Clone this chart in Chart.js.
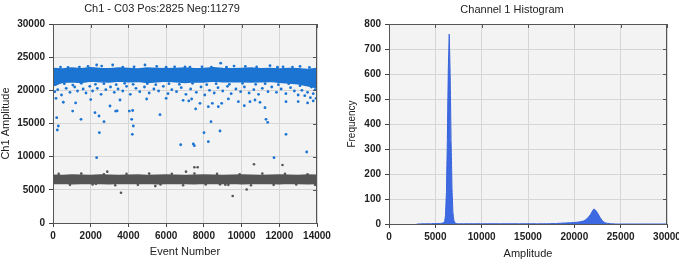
<!DOCTYPE html>
<html lang="en">
<head>
<meta charset="UTF-8">
<title>Ch1 scatter and histogram</title>
<script src="https://cdn.jsdelivr.net/npm/chart.js"></script>
<style>
  body { margin: 0; background: #fff; }
  .panel { position: absolute; top: 0; height: 263px; }
  #left { left: 0; width: 340px; }
  #right { left: 340px; width: 339px; }
</style>
</head>
<body>
<div class="panel" id="left"><canvas id="scatterChart" width="340" height="263"></canvas></div>
<div class="panel" id="right"><canvas id="histChart" width="339" height="263"></canvas></div>
<script>
// ---- data ----
// dense bands of the scatter: edges sampled every 500 events
const bandEvents = [0,500,1000,1500,2000,2500,3000,3500,4000,4500,5000,5500,6000,6500,7000,7500,8000,8500,9000,9500,10000,10500,11000,11500,12000,12500,13000,13500,14000];
const blueUpper = [23300,23200,23350,23250,23400,23300,23250,23350,23300,23200,23350,23300,23250,23300,23350,23250,23300,23400,23300,23250,23300,23350,23250,23300,23200,23300,23250,23150,23300];
const blueLower = [20700,21200,21300,21200,21400,21300,21250,21400,21300,21350,21200,21300,21400,21300,21200,21300,21250,21400,21300,21350,21300,21250,21300,21350,21200,21100,21000,20700,20400];
const grayUpper = [7200,7150,7250,7200,7150,7250,7200,7150,7200,7250,7150,7200,7250,7200,7150,7200,7250,7200,7150,7200,7250,7200,7150,7200,7250,7200,7150,7250,7200];
const grayLower = [5950,6000,5900,5950,6000,5950,5900,6000,5950,5950,6000,5900,5950,6000,5950,5900,6000,5950,5950,6000,5900,5950,6000,5950,5900,6000,5950,5900,5950];

// single events outside the dense bands [event, amplitude]
const blueEvents = [
  [400,23500],[1856,23600],[2315,23820],[2580,23650],[3164,23820],[4877,23820],[5500,23600],[6450,23550],
  [7265,23500],[7900,23550],[8891,24100],[9600,23650],[10200,23600],[11507,23710],[12200,23550],[13100,23600],
  [800,23450],[1400,23500],[3700,23480],[4300,23550],[6000,23480],[7000,23520],[8400,23500],[9200,23480],
  [10800,23520],[11900,23480],[12700,23500],[13600,23450],
  [150,20900],[600,21000],[1050,20800],[1500,21050],[2250,20900],[2700,21000],[3350,20850],[3800,21050],
  [4250,20900],[5000,21000],[5450,20850],[6150,21000],[6700,20900],[7400,21050],[8150,20850],[8650,21000],
  [9350,20900],[10050,21050],[10750,20900],[11250,21000],[11950,20850],[12500,21000],[13100,20700],[13700,20500],
  [100,19800],[250,20100],[450,19300],[700,20300],[900,19700],[1150,20500],[1300,19900],[1600,20200],
  [1750,19600],[1950,20600],[2100,19900],[2350,20300],[2550,19400],[2800,20100],[3050,20500],[3250,19700],
  [3450,20200],[3700,19900],[3900,20600],[4100,19400],[4400,20300],[4600,19800],[4850,20500],[5100,19600],
  [5350,20200],[5600,19900],[5850,20600],[6100,19500],[6300,20100],[6550,19800],[6800,20400],[7050,19400],
  [7300,20200],[7600,19700],[7850,20500],[8050,19300],[8300,20000],[8550,19600],[8750,20400],[9000,19900],
  [9250,20600],[9450,19500],[9700,20200],[9950,19800],[10150,20500],[10400,19600],[10650,20100],[10900,19400],
  [11100,20300],[11400,19800],[11600,20500],[11850,19700],[12100,20200],[12350,19500],[12600,20400],[12800,19900],
  [13000,19300],[13200,20000],[13350,19200],[13500,19700],[13650,18900],[13800,19500],[13900,20100],[13950,18800],
  [159,18800],[548,18200],[1043,16880],[1485,15630],[2227,16630],[2440,16130],[2705,15280],[3023,17640],
  [3323,16880],[3400,16900],[3553,18540],[4047,16880],[4225,16960],[4172,15630],[4260,14620],[5674,16330],
  [196,15880],[283,14620],[230,14020],[4967,18690],[7353,18690],[7566,17190],[7795,18040],[8238,17540],
  [8379,15280],[8768,17540],[8945,18040],[8450,18040],[9829,18290],[10144,17690],[10447,18290],[10712,18540],
  [10977,18190],[11242,17390],[11295,15630],[11384,15180],[12356,18290],[13000,18300],[13500,18100],[13800,18400],
  [6900,18500],[7200,18400],[1200,18100],[2000,18600],[6000,18800],[9300,18700],
  [2458,13610],[4207,13370],[2315,9850],[6770,11800],[7442,11910],[7495,11650],[8008,13610],[8238,12260],
  [8856,13870],[11720,9850],[12356,13370],[13454,10700]
];
const grayEvents = [
  [2880,7740],[3606,4570],[5426,5560],[7053,7740],[7495,8400],[7672,8400],[9139,5780],[9529,4070],
  [10271,5050],[10659,8850],[12170,8740],[8856,5830],[2280,5900],
  [300,7400],[900,5750],[1500,7450],[2100,5800],[2700,7350],[3300,5700],[3900,7400],[4500,5750],
  [5100,7450],[5700,5800],[6300,7400],[6900,5700],[7500,7450],[8100,5800],[8700,7400],[9300,5750],
  [9900,7350],[10500,5700],[11100,7450],[11700,5750],[12300,7400],[12900,5800],[13500,7350],[13900,5750]
];

// histogram: amplitude vs frequency
const histAmplitude = [3000,4000,4500,5000,5500,5700,5800,5900,6000,6100,6200,6300,6400,6500,6600,6700,6800,6900,7000,7100,7200,7300,7500,8000,9000,10000,12000,14000,16000,17000,18000,18500,19000,19500,20000,20500,21000,21250,21500,21750,22000,22100,22250,22400,22500,22750,23000,23250,23500,24000,24500,25000,30000];
const histCount = [0,1,1,2,2,3,4,6,10,35,130,340,620,760,600,330,140,45,15,6,3,2,1,1,1,1,1,1,1,1,2,3,4,5,6,8,12,18,26,38,55,60,57,50,44,28,14,6,3,1,0,0,0];

const FONT = '"Liberation Sans", Arial, sans-serif';
const TEXT = '#222';
const BLUE = '#1c74d2';
const GRAY = '#555555';

// plot background, frame and the small inside ticks on top/right
const framePlugin = {
  id: 'frame',
  beforeDraw(chart) {
    const a = chart.chartArea, ctx = chart.ctx;
    ctx.save();
    ctx.fillStyle = '#f3f3f3';
    ctx.fillRect(a.left, a.top, a.right - a.left, a.bottom - a.top);
    ctx.restore();
  },
  afterDraw(chart) {
    const a = chart.chartArea, ctx = chart.ctx;
    ctx.save();
    ctx.strokeStyle = '#555';
    ctx.lineWidth = 1;
    ctx.strokeRect(a.left + 0.5, a.top + 0.5, a.right - a.left - 1, a.bottom - a.top);
    ctx.beginPath();
    chart.scales.x.ticks.forEach(t => {
      const px = Math.round(chart.scales.x.getPixelForValue(t.value)) + 0.5;
      ctx.moveTo(px, a.top); ctx.lineTo(px, a.top + 4);
    });
    chart.scales.y.ticks.forEach(t => {
      const py = Math.round(chart.scales.y.getPixelForValue(t.value)) + 0.5;
      ctx.moveTo(a.right - 4, py); ctx.lineTo(a.right, py);
    });
    ctx.stroke();
    ctx.restore();
  }
};

const titlePlugin = {
  id: 'panelTitle',
  afterDraw(chart, args, opts) {
    const ctx = chart.ctx;
    ctx.save();
    ctx.font = '11px ' + FONT;
    ctx.fillStyle = TEXT;
    ctx.textAlign = 'center';
    ctx.textBaseline = 'middle';
    ctx.fillText(opts.text, opts.x, opts.y);
    ctx.restore();
  }
};

function axes(xOpts, yOpts) {
  const tickFont = { family: FONT, size: 10, weight: 'bold' };
  const plain = v => String(v);
  return {
    x: {
      type: 'linear', min: xOpts.min, max: xOpts.max,
      ticks: { stepSize: xOpts.step, color: TEXT, font: tickFont, padding: 3, maxRotation: 0, callback: plain },
      grid: { color: '#d6d6d6', tickColor: '#444', tickLength: 4 },
      border: { color: '#555' },
      title: { display: true, text: xOpts.title, color: TEXT, font: { family: FONT, size: 11 }, padding: { top: 0, bottom: xOpts.titlePad } },
      afterFit(s) { s.height = xOpts.height; s.paddingRight = 0; }
    },
    y: {
      min: yOpts.min, max: yOpts.max,
      ticks: { stepSize: yOpts.step, color: TEXT, font: tickFont, padding: 4, callback: plain },
      grid: { color: '#d6d6d6', tickColor: '#444', tickLength: 4 },
      border: { color: '#555' },
      title: { display: true, text: yOpts.title, color: TEXT, font: { family: FONT, size: yOpts.titleSize }, padding: { top: yOpts.titlePad, bottom: 0 } },
      afterFit(s) { s.width = yOpts.width; }
    }
  };
}

const pts = arr => arr.map(p => ({ x: p[0], y: p[1] }));
const edge = vals => bandEvents.map((e, i) => ({ x: e, y: vals[i] }));

new Chart(document.getElementById('scatterChart'), {
  type: 'scatter',
  data: {
    datasets: [
      { data: pts(blueEvents), backgroundColor: BLUE, pointRadius: 1.4, borderWidth: 0 },
      { data: pts(grayEvents), backgroundColor: GRAY, pointRadius: 1.3, borderWidth: 0 },
      { data: edge(blueLower), showLine: true, pointRadius: 0, borderColor: BLUE, borderWidth: 1.5, fill: false },
      { data: edge(blueUpper), showLine: true, pointRadius: 0, borderColor: BLUE, borderWidth: 1.5, backgroundColor: BLUE, fill: '-1' },
      { data: edge(grayLower), showLine: true, pointRadius: 0, borderColor: GRAY, borderWidth: 1.5, fill: false },
      { data: edge(grayUpper), showLine: true, pointRadius: 0, borderColor: GRAY, borderWidth: 1.5, backgroundColor: GRAY, fill: '-1' }
    ]
  },
  options: {
    responsive: false, animation: false, devicePixelRatio: 1,
    layout: { padding: { left: 0, right: 23, top: 24, bottom: 0 } },
    plugins: {
      legend: { display: false }, tooltip: { enabled: false },
      panelTitle: { text: 'Ch1 - C03 Pos:2825 Neg:11279', x: 162, y: 9 }
    },
    scales: axes(
      { min: 0, max: 14000, step: 2000, title: 'Event Number', height: 40, titlePad: 4 },
      { min: 0, max: 30000, step: 5000, title: 'Ch1 Amplitude', width: 53, titleSize: 11, titlePad: -1 }
    )
  },
  plugins: [framePlugin, titlePlugin]
});

new Chart(document.getElementById('histChart'), {
  type: 'line',
  data: {
    datasets: [{
      data: histAmplitude.map((a, i) => ({ x: a, y: histCount[i] })),
      borderColor: '#3562dc', borderWidth: 1, backgroundColor: '#3d6ae2',
      fill: 'origin', pointRadius: 0, tension: 0.0001
    }]
  },
  options: {
    responsive: false, animation: false, devicePixelRatio: 1,
    layout: { padding: { left: 0, right: 12, top: 24, bottom: 0 } },
    plugins: {
      legend: { display: false }, tooltip: { enabled: false },
      panelTitle: { text: 'Channel 1 Histogram', x: 172, y: 10 }
    },
    scales: axes(
      { min: 0, max: 30000, step: 5000, title: 'Amplitude', height: 39, titlePad: 2 },
      { min: 0, max: 800, step: 100, title: 'Frequency', width: 49, titleSize: 10, titlePad: 6 }
    )
  },
  plugins: [framePlugin, titlePlugin]
});
</script>
</body>
</html>
